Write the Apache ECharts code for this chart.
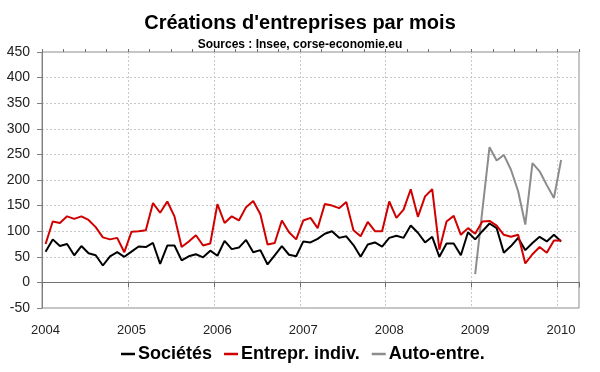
<!DOCTYPE html>
<html>
<head>
<meta charset="utf-8">
<script src="https://cdn.jsdelivr.net/npm/echarts@6/dist/echarts.min.js"></script>
<style>
html,body{margin:0;padding:0;background:#fff;}
#chart{width:600px;height:372px;}
</style>
</head>
<body>
<div id="chart"></div>
<script>
// Monthly data, January 2004 .. January 2010
const startYear = 2004;
const yearLabels = ['2004','2005','2006','2007','2008','2009','2010'];
const societes = [
  60,84,71,75,53,71,57,53,33,51,59,50,
  60,70,69,77,36,72,72,43,51,55,49,62,
  52,81,65,68,83,59,63,35,53,71,54,51,
  80,78,85,95,100,87,90,73,50,74,78,70,
  87,91,87,111,97,78,89,50,76,76,53,98,
  84,100,115,106,58,71,87,63,77,89,80,93,
  80
];
const entrepIndiv = [
  75,119,116,129,124,129,122,108,88,84,87,59,
  99,100,102,155,136,158,129,69,80,92,72,76,
  153,116,129,121,147,159,133,74,77,121,98,84,
  121,126,106,153,150,145,157,102,90,118,100,100,
  158,126,142,182,128,168,182,64,119,130,93,106,
  95,119,120,111,93,89,93,37,55,69,58,82,
  82
];
// Auto-entrepreneurs: from January 2009 (month index 60)
const autoStart = 60;
const autoEntre = [16,140,264,238,249,220,178,113,233,217,190,165,239];

const seriesNames = ['Sociétés','Entrepr. indiv.','Auto-entre.'];
const colors = ['#000000','#d00000','#8c8c8c'];

function toPoints(arr, offset){
  return arr.map((v,i)=>[offset + i + 0.5, v]);
}

const font = '"Liberation Sans", Arial, sans-serif';
const chart = echarts.init(document.getElementById('chart'));
chart.setOption({
  animation:false,
  backgroundColor:'#ffffff',
  title:[
    {text:"Créations d'entreprises par mois", left:'center', top:8,
     textStyle:{fontFamily:font,fontSize:20,fontWeight:'bold',color:'#000'}},
    {text:'Sources : Insee, corse-economie.eu', left:'center', top:34,
     textStyle:{fontFamily:font,fontSize:12,fontWeight:'bold',color:'#000'}}
  ],
  legend:{
    bottom:4, left:116,
    icon:'rect', itemWidth:14, itemHeight:2.5, itemGap:12,
    textStyle:{fontFamily:font,fontSize:18,fontWeight:'bold',color:'#000',padding:[0,0,0,-2]},
    data:seriesNames
  },
  grid:{left:42,right:21,top:52,bottom:64,show:true,borderColor:'#8c8c8c',borderWidth:1,containLabel:false},
  xAxis:[
    {type:'value',min:0,max:75,interval:12,position:'bottom',
     axisLine:{onZero:true,lineStyle:{color:'#707070',width:1}},
     axisTick:{show:true,length:5,lineStyle:{color:'#707070'}},
     axisLabel:{margin:16,fontFamily:font,fontSize:13,color:'#222',padding:[0,0,0,7],
       formatter:function(v){ if (v % 12 !== 0) return ''; const k=v/12; return yearLabels[k]!==undefined?yearLabels[k]:''; }},
     splitLine:{show:true,lineStyle:{color:'#c8c8c8',type:[2,2],width:1}}
    },
    {type:'value',min:0,max:75,interval:3,position:'top',
     axisLine:{show:false,onZero:true},
     axisTick:{show:true,length:3,lineStyle:{color:'#707070'}},
     axisLabel:{show:false},
     splitLine:{show:false}
    }
  ],
  yAxis:{type:'value',min:-50,max:450,interval:50,
    axisLine:{show:true,onZero:false,lineStyle:{color:'#808080'}},
    axisTick:{show:true,length:5,lineStyle:{color:'#808080'}},
    axisLabel:{margin:12,fontFamily:font,fontSize:14,color:'#222'},
    splitLine:{show:true,lineStyle:{color:'#c8c8c8',type:[2,2],width:1}}
  },
  series:[
    {name:seriesNames[0],type:'line',xAxisIndex:0,symbol:'none',data:toPoints(societes,0),
     lineStyle:{color:colors[0],width:2},itemStyle:{color:colors[0]},z:3},
    {name:seriesNames[1],type:'line',xAxisIndex:0,symbol:'none',data:toPoints(entrepIndiv,0),
     lineStyle:{color:colors[1],width:2},itemStyle:{color:colors[1]},z:4},
    {name:seriesNames[2],type:'line',xAxisIndex:0,symbol:'none',data:toPoints(autoEntre,autoStart),
     lineStyle:{color:colors[2],width:2},itemStyle:{color:colors[2]},z:2}
  ]
});
</script>
</body>
</html>
